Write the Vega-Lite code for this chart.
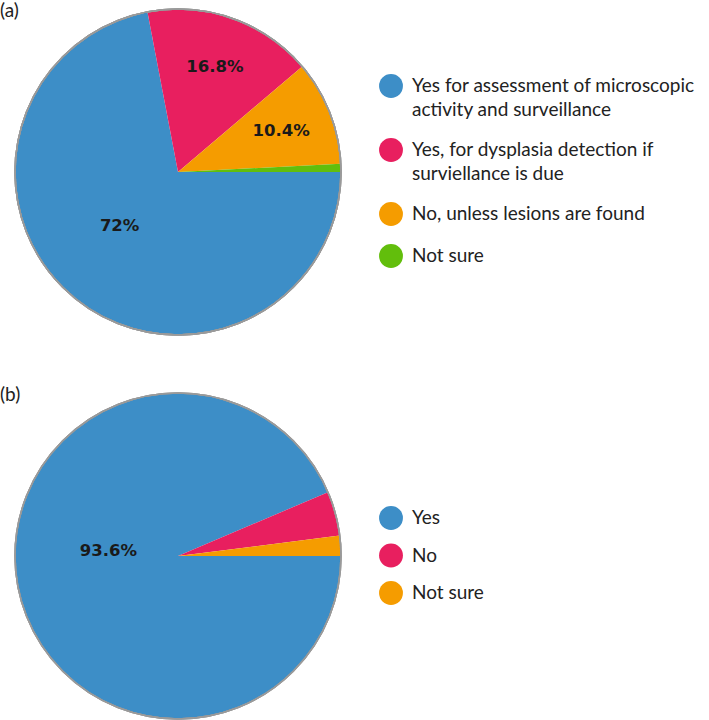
{
  "$schema": "https://vega.github.io/schema/vega-lite/v6.json",
  "padding": {"left": 0, "top": 2, "right": 0, "bottom": 0},
  "background": "white",
  "spacing": 48,
  "config": {
    "view": {"stroke": null},
    "font": "Lato",
    "style": {"guide-label": {"lineHeight": 24}},
    "title": {"font": "Lato", "fontSize": 19, "fontWeight": "normal", "color": "#222", "anchor": "start", "frame": "group"},
    "legend": {
      "labelFont": "Lato", "labelFontSize": 19, "labelColor": "#222",
      "symbolType": "circle", "symbolSize": 570, "symbolStrokeWidth": 0, "symbolOpacity": 1,
      "labelLimit": 400, "title": null
    }
  },
  "datasets": {
    "a": [
      {"answer": "Yes for assessment of microscopic activity and surveillance", "pct": 72, "rank": 1, "label": "72%"},
      {"answer": "Yes, for dysplasia detection if surviellance is due", "pct": 16.8, "rank": 2, "label": "16.8%"},
      {"answer": "No, unless lesions are found", "pct": 10.4, "rank": 3, "label": "10.4%"},
      {"answer": "Not sure", "pct": 0.8, "rank": 4, "label": ""}
    ],
    "b": [
      {"answer": "Yes", "pct": 93.6, "rank": 1, "label": "93.6%"},
      {"answer": "No", "pct": 4.4, "rank": 2, "label": ""},
      {"answer": "Not sure", "pct": 2.0, "rank": 3, "label": ""}
    ]
  },
  "vconcat": [
    {
      "width": 326, "height": 326,
      "title": {"text": "(a)", "offset": 0, "dx": -15, "dy": 30, "baseline": "alphabetic"},
      "data": {"name": "a"},
      "layer": [
        {
          "mark": {"type": "arc", "strokeWidth": 0},
          "encoding": {
            "theta": {"field": "pct", "type": "quantitative", "stack": true, "scale": {"range": [1.5708, 7.854]}},
            "order": {"field": "rank", "type": "quantitative"},
            "color": {
              "field": "answer", "type": "nominal",
              "scale": {
                "domain": ["Yes for assessment of microscopic activity and surveillance", "Yes, for dysplasia detection if surviellance is due", "No, unless lesions are found", "Not sure"],
                "range": ["#3d8ec7", "#e81f5f", "#f59c00", "#62be0c"]
              },
              "legend": {
                "orient": "none", "legendX": 364, "legendY": 65, "rowPadding": 18,
                "labelExpr": "datum.label == 'Yes for assessment of microscopic activity and surveillance' ? ['Yes for assessment of microscopic', 'activity and surveillance'] : datum.label == 'Yes, for dysplasia detection if surviellance is due' ? ['Yes, for dysplasia detection if', 'surviellance is due'] : datum.label",
                "labelOffset": 9
              }
            }
          }
        },
        {
          "mark": {"type": "text", "font": "DejaVu Sans", "fontWeight": "bold", "fontSize": 16.5, "color": "#1a1a1a"},
          "encoding": {
            "theta": {"field": "pct", "type": "quantitative", "stack": true},
            "order": {"field": "rank", "type": "quantitative"},
            "radius": {"value": 111},
            "text": {"condition": {"test": "datum.pct > 50", "value": ""}, "field": "label"}
          }
        },
        {
          "mark": {"type": "text", "font": "DejaVu Sans", "fontWeight": "bold", "fontSize": 16.5, "color": "#1a1a1a", "dx": -8, "dy": -7},
          "encoding": {
            "theta": {"field": "pct", "type": "quantitative", "stack": true},
            "order": {"field": "rank", "type": "quantitative"},
            "radius": {"value": 79},
            "text": {"condition": {"test": "datum.pct < 50", "value": ""}, "field": "label"}
          }
        },
        {
          "mark": {"type": "arc", "theta": 0, "theta2": 6.2832, "radius": 163, "fill": null, "fillOpacity": 0, "stroke": "#9a9a9a", "strokeWidth": 1.5},
          "encoding": {}
        }
      ]
    },
    {
      "width": 326, "height": 326,
      "title": {"text": "(b)", "offset": 0, "dx": -15, "dy": 30, "baseline": "alphabetic"},
      "data": {"name": "b"},
      "layer": [
        {
          "mark": {"type": "arc", "strokeWidth": 0},
          "encoding": {
            "theta": {"field": "pct", "type": "quantitative", "stack": true, "scale": {"range": [1.5708, 7.854]}},
            "order": {"field": "rank", "type": "quantitative"},
            "color": {
              "field": "answer", "type": "nominal",
              "scale": {"domain": ["Yes", "No", "Not sure"], "range": ["#3d8ec7", "#e81f5f", "#f59c00"]},
              "legend": {"orient": "none", "legendX": 364, "legendY": 113, "rowPadding": 13.5, "labelOffset": 9}
            }
          }
        },
        {
          "mark": {"type": "text", "font": "DejaVu Sans", "fontWeight": "bold", "fontSize": 16.5, "color": "#1a1a1a", "dy": -19},
          "encoding": {
            "theta": {"field": "pct", "type": "quantitative", "stack": true},
            "order": {"field": "rank", "type": "quantitative"},
            "radius": {"value": 71},
            "text": {"field": "label"}
          }
        },
        {
          "mark": {"type": "arc", "theta": 0, "theta2": 6.2832, "radius": 163, "fill": null, "fillOpacity": 0, "stroke": "#9a9a9a", "strokeWidth": 1.5},
          "encoding": {}
        }
      ]
    }
  ],
  "resolve": {"scale": {"color": "independent", "theta": "independent"}, "legend": {"color": "independent"}}
}
